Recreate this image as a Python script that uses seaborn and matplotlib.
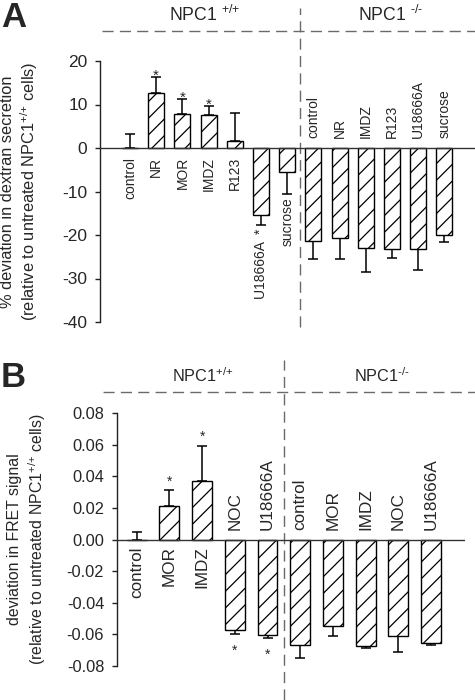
import numpy as np
import pandas as pd
import matplotlib
matplotlib.use("Agg")
import matplotlib.pyplot as plt
import seaborn as sns

# ---------------- data ----------------
# Panel A: % deviation in dextran secretion
A_labels_wt = ["control", "NR", "MOR", "IMDZ", "R123", "U18666A", "sucrose"]
A_values_wt = [0.0, 12.7, 7.8, 7.7, 1.5, -15.5, -5.5]
A_errors_wt = [3.3, 3.7, 3.4, 1.9, 6.6, 2.2, 5.0]
A_signif_wt = [False, True, True, True, False, True, False]

A_labels_ko = ["control", "NR", "IMDZ", "R123", "U18666A", "sucrose"]
A_values_ko = [-21.3, -20.6, -23.0, -23.3, -23.3, -20.0]
A_errors_ko = [4.3, 4.9, 5.5, 2.0, 4.8, 1.6]

A_yticks = [20, 10, 0, -10, -20, -30, -40]

# Panel B: deviation in FRET signal
B_labels_wt = ["control", "MOR", "IMDZ", "NOC", "U18666A"]
B_values_wt = [0.0, 0.0215, 0.0372, -0.0574, -0.0604]
B_errors_wt = [0.005, 0.010, 0.0223, 0.0026, 0.0023]
B_signif_wt = [False, True, True, True, True]

B_labels_ko = ["control", "MOR", "IMDZ", "NOC", "U18666A"]
B_values_ko = [-0.0667, -0.0547, -0.0675, -0.0614, -0.0656]
B_errors_ko = [0.0082, 0.0063, 0.0015, 0.0097, 0.0011]

B_yticks = [0.08, 0.06, 0.04, 0.02, 0.00, -0.02, -0.04, -0.06, -0.08]

# ---------------- style ----------------
sns.set_style("ticks")
plt.rcParams["font.family"] = ["Liberation Sans", "DejaVu Sans"]
plt.rcParams["mathtext.fontset"] = "custom"
plt.rcParams["mathtext.rm"] = "Liberation Sans"
plt.rcParams["mathtext.it"] = "Liberation Sans:italic"
plt.rcParams["mathtext.bf"] = "Liberation Sans:bold"
plt.rcParams["hatch.linewidth"] = 0.9
plt.rcParams["hatch.color"] = "black"

W, H = 475, 700
DPI = 100
fig = plt.figure(figsize=(W / DPI, H / DPI), dpi=DPI)
PT = 72.0 / DPI  # points per pixel
DASH_COLOR = "#6a6a6a"


def ax_px(l, t, r, b):
    return fig.add_axes([l / W, 1 - b / H, (r - l) / W, (b - t) / H])


def draw_bars(ax, labels_wt, vals_wt, errs_wt, labels_ko, vals_ko, errs_ko, width):
    keys = [f"wt_{i}" for i in range(len(labels_wt))] + [f"ko_{i}" for i in range(len(labels_ko))]
    vals = list(vals_wt) + list(vals_ko)
    errs = list(errs_wt) + list(errs_ko)
    df = pd.DataFrame({"key": keys, "value": vals})
    sns.barplot(data=df, x="key", y="value", order=keys, color="white",
                edgecolor="black", linewidth=1.0, hatch="//", width=width,
                errorbar=None, ax=ax, zorder=3)
    for p in ax.patches:
        p.set_facecolor("white")
    pos = np.arange(len(keys))
    v = np.array(vals)
    e = np.array(errs)
    lower = np.where(v < 0, e, 0)
    upper = np.where(v >= 0, e, 0)
    ax.errorbar(pos, v, yerr=[lower, upper], fmt="none", ecolor="black",
                elinewidth=1.1, capsize=3.6, capthick=1.1, zorder=2)
    return pos, v, e


def style_axis(ax, yticks, fmt, labelsize, pad):
    ax.set_xticks([])
    ax.set_xlabel("")
    ax.set_ylabel("")
    for s in ["top", "right", "bottom"]:
        ax.spines[s].set_visible(False)
    ax.spines["left"].set_linewidth(1.0)
    ax.spines["left"].set_color("#222222")
    ax.set_yticks(yticks)
    ax.set_yticklabels([fmt(t) for t in yticks])
    ax.tick_params(axis="y", direction="out", length=3.5, width=1.0,
                   labelsize=labelsize, pad=pad, color="#222222")
    ax.axhline(0, color="#333333", lw=1.0, zorder=4)
    ax.patch.set_alpha(0)


def lab(ax, x, y, text, dy_px, va, size):
    ax.annotate(text, xy=(x, y), xytext=(0, dy_px * PT), textcoords="offset points",
                rotation=90, ha="center", va=va, fontsize=size, annotation_clip=False)


def star(ax, x, y, dy_px, size):
    ax.annotate("*", xy=(x, y), xytext=(0, dy_px * PT), textcoords="offset points",
                ha="center", va="baseline", fontsize=size, annotation_clip=False)


SUP = r"$^{+/{+}}$"
SUPKO = "$^{\u2010/\u2010}$"

# ---------------- Panel A ----------------
axA = ax_px(100, 61, 475, 322)
posA, vA, eA = draw_bars(axA, A_labels_wt, A_values_wt, A_errors_wt,
                         A_labels_ko, A_values_ko, A_errors_ko, 0.61)
axA.set_ylim(-40, 20)
axA.set_xlim(-30 / 26.2, 345 / 26.2)
style_axis(axA, A_yticks, lambda t: f"{t:d}", 12.5, 5.5)

nwt = len(A_labels_wt)
for i, name in enumerate(A_labels_wt):
    if A_values_wt[i] >= 0:
        lab(axA, i, 0, name, -9, "top", 10)
    else:
        txt = name + "  *" if A_signif_wt[i] else name
        lab(axA, i, A_values_wt[i] - A_errors_wt[i], txt, -4, "top", 10)
    if A_signif_wt[i] and A_values_wt[i] >= 0:
        star(axA, i, A_values_wt[i] + A_errors_wt[i], -3, 11)
for j, name in enumerate(A_labels_ko):
    lab(axA, nwt + j, 0, name, 10, "bottom", 10)

# separators A
axA.plot([nwt - 0.5, nwt - 0.5], [-0.019, 1.203], transform=axA.get_xaxis_transform(),
         color=DASH_COLOR, lw=1.0, dashes=(8, 4.5), clip_on=False, zorder=1)
axA.plot([0.005, 1.0], [1.115, 1.115], transform=axA.transAxes,
         color=DASH_COLOR, lw=1.0, dashes=(8, 4.5), clip_on=False, zorder=1)

fig.text(205 / W, 1 - 21 / H, "NPC1 " + SUP, ha="center", va="baseline", fontsize=12.7)
fig.text(391 / W, 1 - 21 / H, "NPC1 " + SUPKO, ha="center", va="baseline", fontsize=12.7)
fig.text(20 / W, 1 - 191.5 / H,
         "% deviation in dextran secretion\n(relative to untreated NPC1" + SUP + " cells)",
         rotation=90, ha="center", va="center", fontsize=11.8, multialignment="center")
fig.text(1 / W, 1 - 27 / H, "A", ha="left", va="baseline", fontsize=25, fontweight="bold")

# ---------------- Panel B ----------------
axB = ax_px(116.7, 413.3, 465, 665.7)
posB, vB, eB = draw_bars(axB, B_labels_wt, B_values_wt, B_errors_wt,
                         B_labels_ko, B_values_ko, B_errors_ko, 0.61)
axB.set_ylim(-0.08, 0.08)
axB.set_xlim(-20 / 32.7, 328.3 / 32.7)
style_axis(axB, B_yticks, lambda t: f"{t:.2f}", 11.8, 5.5)

nwtB = len(B_labels_wt)
for i, name in enumerate(B_labels_wt):
    if B_values_wt[i] >= 0:
        lab(axB, i, 0, name, -6.5, "top", 12.3)
        if B_signif_wt[i]:
            star(axB, i, B_values_wt[i] + B_errors_wt[i], 4.5, 10)
    else:
        lab(axB, i, 0, name, 9, "bottom", 12.3)
        if B_signif_wt[i]:
            star(axB, i, B_values_wt[i] - B_errors_wt[i], -20.5, 10)
for j, name in enumerate(B_labels_ko):
    lab(axB, nwtB + j, 0, name, 9, "bottom", 12.3)

axB.plot([nwtB - 0.5, nwtB - 0.5], [-0.136, 1.211], transform=axB.get_xaxis_transform(),
         color=DASH_COLOR, lw=1.0, dashes=(8, 4.5), clip_on=False, zorder=1)
axB.plot([-0.04, 1.03], [1.083, 1.083], transform=axB.transAxes,
         color=DASH_COLOR, lw=1.0, dashes=(8, 4.5), clip_on=False, zorder=1)

fig.text(203 / W, 1 - 382.3 / H, "NPC1" + SUP, ha="center", va="baseline", fontsize=11.7)
fig.text(381.7 / W, 1 - 382.3 / H, "NPC1" + SUPKO, ha="center", va="baseline", fontsize=11.7)
fig.text(27.5 / W, 1 - 539.5 / H,
         "deviation in FRET signal\n(relative to untreated NPC1" + SUP + " cells)",
         rotation=90, ha="center", va="center", fontsize=11.4, multialignment="center")
fig.text(1 / W, 1 - 387 / H, "B", ha="left", va="baseline", fontsize=25, fontweight="bold")

fig.savefig("out.png", dpi=DPI)
